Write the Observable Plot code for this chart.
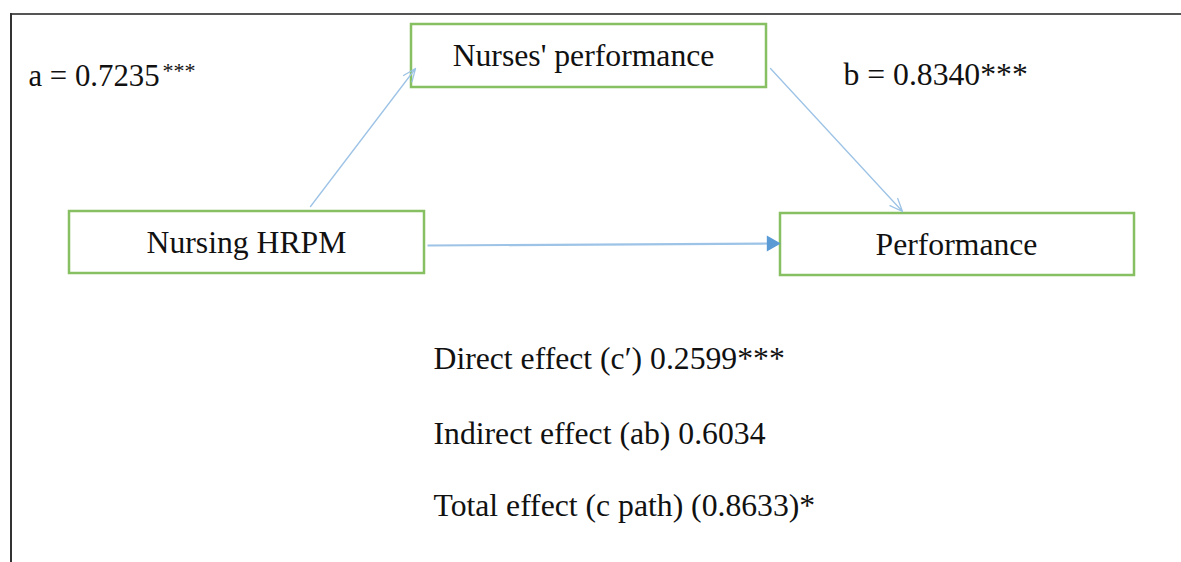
<!DOCTYPE html>
<html>
<head>
<meta charset="utf-8">
<script src="https://cdn.jsdelivr.net/npm/d3@7"></script>
<script src="https://cdn.jsdelivr.net/npm/@observablehq/plot@0.6"></script>
<style>
  html, body { margin: 0; padding: 0; background: #fff; }
  #chart svg { display: block; }
</style>
</head>
<body>
<div id="chart"></div>
<script>
// ---- values ----
const nodeNames = ["Nurses' performance", "Nursing HRPM", "Performance"];
const pathNames = ["a", "b"];
const pathCoefs = [0.7235, 0.8340];
const pathStars = ["***", "***"];
const effectNames = ["Direct effect (c\u2032)", "Indirect effect (ab)", "Total effect (c path)"];
const effectValues = [0.2599, 0.6034, 0.8633];
const effectText = ["0.2599***", "0.6034", "(0.8633)*"];

// ---- layout (diagram positions in pixel-space scale units) ----
const W = 1181, H = 562;
const boxLayout = [
  {x1: 411, x2: 766, y1: 24, y2: 87, tx: 583, ty: 65},
  {x1: 69, x2: 424, y1: 211, y2: 273, tx: 246, ty: 252},
  {x1: 780, x2: 1134, y1: 213, y2: 275, tx: 956, ty: 254}
];
const boxes = nodeNames.map((name, i) => ({name, ...boxLayout[i]}));

const arrowLayout = [
  {x1: 310, y1: 206, x2: 415, y2: 68},
  {x1: 770, y1: 68, x2: 902, y2: 211}
];
const openArrows = pathNames.map((p, i) => ({path: p, ...arrowLayout[i]}));
const directLine = [{x1: 427, y1: 245, x2: 768, y2: 243}];
const directHead = [{x: 771, y: 243}];

const coefLayout = [{x: 28, y: 85, fs: 30.8, sx: 162, sy: 77}, {x: 843, y: 84, fs: 31.7}];
const coefLabels = pathNames.map((p, i) => ({
  text: i === 0 ? `${p} = ${pathCoefs[i].toFixed(4)}` : `${p} = ${pathCoefs[i].toFixed(4)}${pathStars[i]}`,
  ...coefLayout[i]
}));
const supStars = [{text: pathStars[0], x: coefLayout[0].sx, y: coefLayout[0].sy}];

const effectY = [368, 443, 515];
const effects = effectNames.map((n, i) => ({text: `${n} ${effectText[i]}`, x: 433, y: effectY[i]}));

const font = "'Liberation Serif', 'Times New Roman', serif";
const green = "#86c062";
const fs = 31.7;

const chart = Plot.plot({
  width: W, height: H,
  margin: 0,
  x: {domain: [0, W], axis: null},
  y: {domain: [0, H], axis: null, reverse: true},
  style: {fontFamily: font, background: "#fff"},
  marks: [
    // outer frame (top and left edges visible)
    Plot.ruleY([13.5], {x1: 10, x2: W, stroke: "#555", strokeWidth: 2}),
    Plot.ruleX([10.5], {y1: 13, y2: H, stroke: "#333", strokeWidth: 2}),
    // boxes
    Plot.rect(boxes, {x1: "x1", x2: "x2", y1: "y1", y2: "y2", fill: "white", stroke: green, strokeWidth: 2.5}),
    Plot.text(boxes, {x: "tx", y: "ty", text: "name", fontSize: fs, fill: "#111", lineAnchor: "bottom", textAnchor: "middle"}),
    // arrows a, b
    Plot.arrow(openArrows, {x1: "x1", y1: "y1", x2: "x2", y2: "y2", stroke: "#9dc3e6", strokeWidth: 1.3, headLength: 16, headAngle: 45}),
    // direct path c'
    Plot.link(directLine, {x1: "x1", y1: "y1", x2: "x2", y2: "y2", stroke: "#9dc3e6", strokeWidth: 2.2}),
    Plot.dot(directHead, {x: "x", y: "y", symbol: "triangle", r: 6, rotate: 90, fill: "#5b9bd5", stroke: "none"}),
    // coefficient labels
    Plot.text([coefLabels[0]], {x: "x", y: "y", text: "text", fontSize: coefLayout[0].fs, fill: "#111", textAnchor: "start", lineAnchor: "bottom"}),
    Plot.text([coefLabels[1]], {x: "x", y: "y", text: "text", fontSize: coefLayout[1].fs, fill: "#111", textAnchor: "start", lineAnchor: "bottom"}),
    Plot.text(supStars, {x: "x", y: "y", text: "text", fontSize: 22, fill: "#111", textAnchor: "start", lineAnchor: "bottom"}),
    // effects
    Plot.text(effects, {x: "x", y: "y", text: "text", fontSize: fs, fill: "#111", textAnchor: "start", lineAnchor: "bottom"})
  ]
});
document.getElementById("chart").append(chart);
</script>
</body>
</html>
